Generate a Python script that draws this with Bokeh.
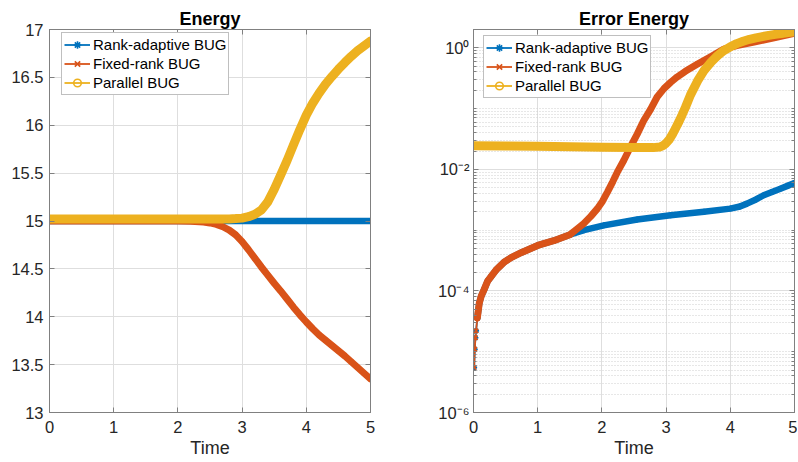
from bokeh.plotting import figure
from bokeh.layouts import row
from bokeh.models import (Range1d, FixedTicker, LinearAxis, LogAxis, Legend, LegendItem,
                          NumeralTickFormatter, CustomJSTickFormatter)
from bokeh.embed import file_html
from bokeh.resources import INLINE

# ---------------- data ----------------
time_ticks = [0, 1, 2, 3, 4, 5]
energy_ticks = [13, 13.5, 14, 14.5, 15, 15.5, 16, 16.5, 17]
err_major_ticks = [1e-6, 1e-4, 1e-2, 1e0]
err_tick_labels = ["10\u207b\u2076", "10\u207b\u2074", "10\u207b\u00b2", "10\u2070"]

t_energy = [0.0, 0.5, 1.0, 1.5, 2.0, 2.2, 2.4, 2.5, 2.6, 2.7, 2.8, 2.9, 3.0, 3.1, 3.2, 3.3,
            3.4, 3.5, 3.6, 3.7, 3.8, 3.9, 4.0, 4.1, 4.2, 4.3, 4.4, 4.5, 4.6, 4.7, 4.8, 4.9, 5.0]
energy_rank_adaptive = [15.0, 15.0, 15.0, 15.0, 15.0, 15.0, 15.0, 15.0, 15.0, 15.0, 15.0, 15.0,
                        15.0, 15.0, 15.0, 15.0, 15.0, 15.0, 15.0, 15.0, 15.0, 15.0, 15.0, 15.0,
                        14.999, 14.999, 14.999, 14.999, 14.999, 14.999, 14.999, 14.999, 14.999]
energy_fixed_rank = [15.0, 15.0, 15.0, 15.0, 15.0, 14.998, 14.99, 14.98, 14.965, 14.94, 14.905,
                     14.855, 14.785, 14.70, 14.61, 14.52, 14.435, 14.35, 14.27, 14.185, 14.10,
                     14.02, 13.945, 13.875, 13.81, 13.755, 13.70, 13.645, 13.59, 13.53, 13.47,
                     13.41, 13.35]
energy_parallel = [15.02, 15.02, 15.02, 15.02, 15.02, 15.02, 15.02, 15.02, 15.02, 15.021, 15.022,
                   15.025, 15.03, 15.045, 15.07, 15.115, 15.2, 15.33, 15.48, 15.63, 15.795,
                   15.955, 16.105, 16.23, 16.335, 16.43, 16.51, 16.585, 16.655, 16.72, 16.78,
                   16.83, 16.88]

t_err_rank = [0.01, 0.02, 0.03, 0.04, 0.06, 0.09, 0.12, 0.165, 0.22, 0.27, 0.35, 0.48, 0.6,
              0.75, 1.0, 1.25, 1.5, 1.72, 2.03, 2.55, 3.07, 3.59, 4.0, 4.15, 4.26, 4.4, 4.52,
              4.65, 4.78, 4.9, 5.0]
err_rank = [5.5e-6, 1.1e-5, 1.7e-5, 2.2e-5, 3.6e-5, 6.3e-5, 8.2e-5, 1.05e-4, 1.45e-4, 1.7e-4,
            2.2e-4, 3.0e-4, 3.6e-4, 4.3e-4, 5.6e-4, 6.7e-4, 8.4e-4, 1.0e-3, 1.2e-3, 1.5e-3,
            1.76e-3, 2.0e-3, 2.26e-3, 2.45e-3, 2.73e-3, 3.2e-3, 3.75e-3, 4.25e-3, 4.8e-3,
            5.4e-3, 5.95e-3]

t_err_fixed = [0.01, 0.02, 0.03, 0.04, 0.06, 0.09, 0.12, 0.165, 0.22, 0.27, 0.35, 0.48, 0.6,
               0.75, 1.0, 1.25, 1.5, 1.6, 1.72, 1.83, 1.93, 2.01, 2.09, 2.17, 2.24, 2.34, 2.45,
               2.55, 2.65, 2.76, 2.86, 2.97, 3.07, 3.17, 3.3, 3.49, 3.7, 3.9, 4.1, 4.37, 4.7, 5.0]
err_fixed = [5.5e-6, 1.1e-5, 1.7e-5, 2.2e-5, 3.6e-5, 6.3e-5, 8.2e-5, 1.05e-4, 1.45e-4, 1.7e-4,
             2.2e-4, 3.0e-4, 3.6e-4, 4.3e-4, 5.6e-4, 6.7e-4, 8.4e-4, 1.02e-3, 1.29e-3, 1.7e-3,
             2.26e-3, 3.0e-3, 4.3e-3, 6.3e-3, 9.0e-3, 1.4e-2, 2.4e-2, 3.8e-2, 6.3e-2, 9.8e-2,
             0.155, 0.215, 0.27, 0.33, 0.41, 0.54, 0.72, 0.95, 1.09, 1.24, 1.47, 1.73]

t_err_par = [0.0, 0.5, 1.0, 1.5, 2.0, 2.5, 2.8, 2.9, 2.95, 3.0, 3.05, 3.1, 3.15, 3.2, 3.25,
             3.3, 3.38, 3.49, 3.59, 3.7, 3.8, 3.9, 4.0, 4.1, 4.2, 4.3, 4.4, 4.5, 4.6, 4.7,
             4.8, 4.9, 5.0]
err_par = [0.0245, 0.0243, 0.024, 0.0236, 0.0232, 0.0228, 0.0228, 0.0233, 0.0245, 0.027,
           0.031, 0.038, 0.048, 0.061, 0.079, 0.104, 0.168, 0.285, 0.42, 0.58, 0.74, 0.9,
           1.04, 1.17, 1.28, 1.38, 1.46, 1.53, 1.6, 1.66, 1.72, 1.78, 1.83]

series_names = ["Rank-adaptive BUG", "Fixed-rank BUG", "Parallel BUG"]

# ---------------- style ----------------
FONT = "Liberation Sans"
BLUE, RED, YELLOW = "#0072BD", "#D95319", "#EDB120"
AXC = "#262626"
LINEC = "#808080"
GRIDC = "#dedede"
MINORC = "#cfcfcf"
FRAME_H = 383
TICK_FS = "16.5px"


def style_axis(ax, label_size=TICK_FS, standoff=6):
    ax.axis_line_color = LINEC
    ax.major_tick_line_color = LINEC
    ax.major_tick_in = 5
    ax.major_tick_out = 0
    ax.minor_tick_line_color = None
    ax.major_label_text_font = FONT
    ax.major_label_text_font_size = label_size
    ax.major_label_text_color = AXC
    ax.major_label_standoff = standoff


def box_axis(p, cls, loc, ticker, minor=False):
    ax = cls(ticker=ticker, formatter=CustomJSTickFormatter(code="return ''"))
    style_axis(ax, label_size="0px", standoff=0)
    if minor:
        ax.minor_tick_line_color = LINEC
        ax.minor_tick_in = 3
        ax.minor_tick_out = 0
    p.add_layout(ax, loc)


def make_fig(title, y_range, frame_width, mbl, mbr, log=False):
    p = figure(x_range=Range1d(0, 5), y_range=y_range,
               y_axis_type="log" if log else "linear",
               frame_width=frame_width, frame_height=FRAME_H,
               min_border_left=mbl, min_border_right=mbr,
               min_border_top=29, min_border_bottom=0,
               output_backend="svg", toolbar_location=None)
    p.title.text = title
    p.title.align = "center"
    p.title.text_font = FONT
    p.title.text_font_size = "18px"
    p.title.text_font_style = "bold"
    p.title.text_color = "#000000"
    p.title.standoff = 2
    p.outline_line_color = LINEC
    p.background_fill_color = "white"
    p.border_fill_color = "white"
    xt = FixedTicker(ticks=time_ticks)
    p.xaxis.ticker = xt
    p.xgrid.ticker = xt
    style_axis(p.xaxis[0], standoff=8)
    p.xaxis.axis_label = "Time"
    p.xaxis.axis_label_text_font = FONT
    p.xaxis.axis_label_text_font_size = "18px"
    p.xaxis.axis_label_text_font_style = "normal"
    p.xaxis.axis_label_text_color = AXC
    p.xaxis.axis_label_standoff = 2
    p.xgrid.grid_line_color = GRIDC
    p.ygrid.grid_line_color = GRIDC
    box_axis(p, LinearAxis, "above", xt)
    return p


def add_series(p, t, v, color, marker, band_w, band_start=0):
    thin = p.line(t, v, line_color=color, line_width=1.8)
    p.line(t[band_start:], v[band_start:], line_color=color, line_width=band_w,
           line_cap="round", line_join="round")
    mk = p.scatter(t, v, marker=marker, size=6, line_color=color, fill_color=None,
                   line_width=1.6)
    return thin, mk


def add_legend(p, items, x, y):
    leg = Legend(items=[LegendItem(label=n, renderers=list(r)) for n, r in items],
                 location=(x, y))
    leg.label_text_font = FONT
    leg.label_text_font_size = "15px"
    leg.label_text_color = "#000000"
    leg.border_line_color = LINEC
    leg.border_line_width = 1
    leg.background_fill_color = "white"
    leg.background_fill_alpha = 1.0
    leg.padding = 2
    leg.margin = 0
    leg.spacing = 0
    leg.label_standoff = 3
    leg.glyph_width = 26
    leg.glyph_height = 19
    leg.label_height = 19
    p.add_layout(leg)


# ---------------- left: Energy ----------------
p1 = make_fig("Energy", Range1d(13, 17), 321, 49, 53)
yt1 = FixedTicker(ticks=energy_ticks)
p1.yaxis.ticker = yt1
p1.ygrid.ticker = yt1
p1.yaxis.formatter = NumeralTickFormatter(format="0.[0]")
style_axis(p1.yaxis[0], standoff=6)
box_axis(p1, LinearAxis, "right", yt1)

r1 = add_series(p1, t_energy, energy_rank_adaptive, BLUE, "asterisk", 6.5)
r2 = add_series(p1, t_energy, energy_fixed_rank, RED, "x", 7)
r3 = add_series(p1, t_energy, energy_parallel, YELLOW, "circle", 9)
add_legend(p1, zip(series_names, [r1, r2, r3]), 12, FRAME_H - 5 - 61)

# ---------------- right: Error Energy ----------------
minor_ticks = [k * 10.0 ** e for e in range(-6, 1) for k in range(1, 10)
               if not (k == 1 and e % 2 == 0)]
p2 = make_fig("Error Energy", Range1d(1e-6, 2.0), 321, 50, 3, log=True)
yt2 = FixedTicker(ticks=err_major_ticks, minor_ticks=minor_ticks)
p2.yaxis.ticker = yt2
p2.ygrid.ticker = yt2
p2.yaxis.major_label_overrides = dict(zip(err_major_ticks, err_tick_labels))
style_axis(p2.yaxis[0], standoff=4)
p2.yaxis.minor_tick_line_color = LINEC
p2.yaxis.minor_tick_in = 3
p2.yaxis.minor_tick_out = 0
p2.ygrid.minor_grid_line_color = MINORC
p2.ygrid.minor_grid_line_dash = "1 2"
box_axis(p2, LogAxis, "right", yt2, minor=True)

q1 = add_series(p2, t_err_rank, err_rank, BLUE, "asterisk", 6.5, band_start=4)
q2 = add_series(p2, t_err_fixed, err_fixed, RED, "x", 7, band_start=4)
q3 = add_series(p2, t_err_par, err_par, YELLOW, "circle", 9)
add_legend(p2, zip(series_names, [q1, q2, q3]), 10, FRAME_H - 8 - 61)

layout = row(p1, p2)
open("out.html", "w").write(file_html(layout, INLINE))
